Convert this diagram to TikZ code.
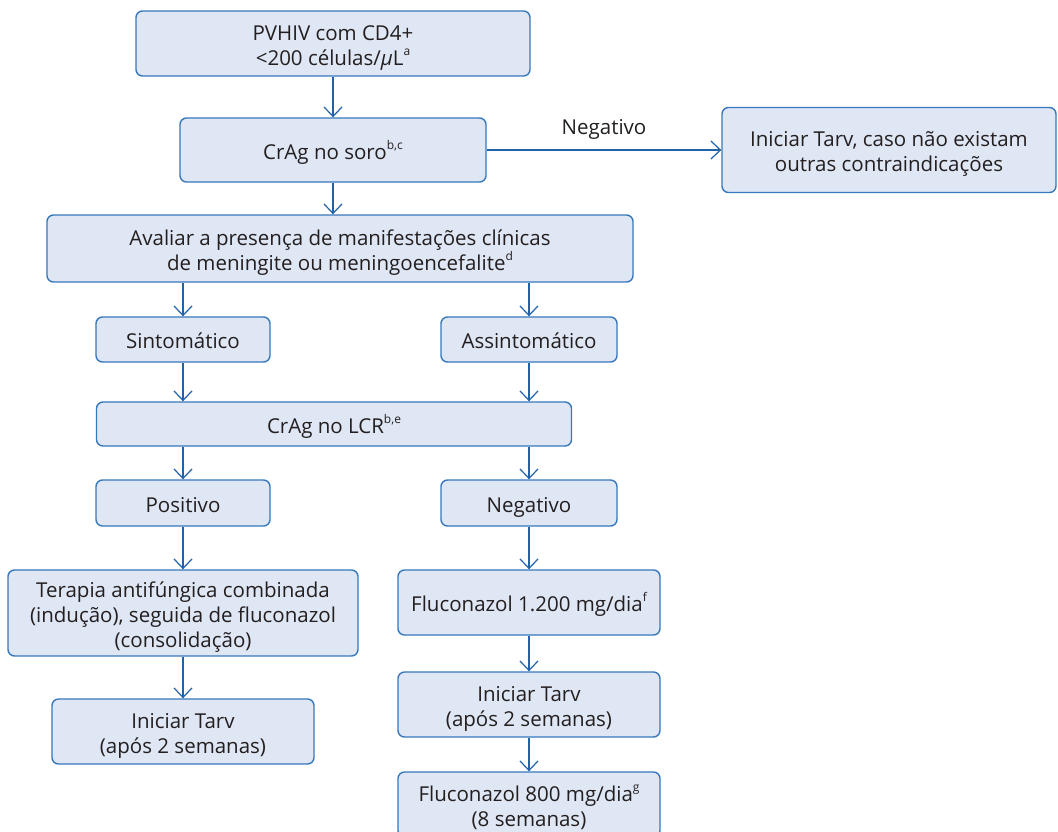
\documentclass[tikz,border=0pt]{standalone}
\usepackage{fontspec}
\setmainfont{Open Sans}
\usetikzlibrary{arrows.meta}
\definecolor{boxfill}{RGB}{223,230,244}
\definecolor{boxline}{RGB}{56,120,188}
\definecolor{arrowc}{RGB}{34,98,168}
\definecolor{txt}{RGB}{35,31,32}
\newcommand\sps[1]{\raisebox{0.47em}{\fontsize{12}{12}\selectfont #1}}
\newcommand\tps{\rule{0pt}{24pt}}
\newcommand\bts{\rule[-6pt]{0pt}{6pt}}
\begin{document}
\begin{tikzpicture}[x=1pt,y=-1pt,
  flowbox/.style={draw=boxline, line width=1.4pt, fill=boxfill, rounded corners=6.5pt,
    inner sep=0pt, align=center, text=txt, font=\fontsize{20.5}{25}\selectfont},
  flowarrow/.style={draw=arrowc, line width=1.2pt, -{Straight Barb[length=9.5pt,width=18pt,line width=1.2pt]}}]
\useasboundingbox (0,0) rectangle (1058,831);
\fill[white] (0,0) rectangle (1058,831);
\node[flowbox, minimum width=394pt, minimum height=65pt] (b1) at (333,43.5) {\tps PVHIV com CD4+\\{<}200 células/{\itshape μ}L\sps{a}\bts};
\node[flowbox, minimum width=306pt, minimum height=64pt] (b2) at (333,150) {\tps CrAg no soro\sps{b,c}\bts};
\node[flowbox, minimum width=334pt, minimum height=85pt] (r1) at (889,150) {\tps Iniciar Tarv, caso não existam\\outras contraindicações\bts};
\node[flowbox, minimum width=586pt, minimum height=67pt] (b3) at (340,248.5) {\tps Avaliar a presença de manifestações clínicas\\de meningite ou meningoencefalite\sps{d}\bts};
\node[flowbox, minimum width=174pt, minimum height=45pt] (sint) at (183,339.5) {\tps Sintomático\bts};
\node[flowbox, minimum width=176pt, minimum height=45pt] (assint) at (529,339.5) {\tps Assintomático\bts};
\node[flowbox, minimum width=475pt, minimum height=44pt] (lcr) at (334,424) {\tps CrAg no LCR\sps{b,e}\bts};
\node[flowbox, minimum width=174pt, minimum height=46pt] (pos) at (183,503) {\tps Positivo\bts};
\node[flowbox, minimum width=176pt, minimum height=46pt] (neg) at (529,503) {\tps Negativo\bts};
\node[flowbox, minimum width=350pt, minimum height=86pt] (ter) at (183,613) {\tps Terapia antifúngica combinada\\(indução), seguida de fluconazol\\(consolidação)\bts};
\node[flowbox, minimum width=262pt, minimum height=65pt] (f1) at (529,602.5) {\tps Fluconazol 1.200 mg/dia\sps{f}\bts};
\node[flowbox, minimum width=262pt, minimum height=65pt] (tl) at (183,731.5) {\tps Iniciar Tarv\\(após 2 semanas)\bts};
\node[flowbox, minimum width=262pt, minimum height=65pt] (tr) at (529,704.5) {\tps Iniciar Tarv\\(após 2 semanas)\bts};
\node[flowbox, minimum width=262pt, minimum height=65pt] (f2) at (529,804.5) {\tps Fluconazol 800 mg/dia\sps{g}\\(8 semanas)\bts};
\draw[flowarrow] (b1.south) -- (b2.north);
\draw[flowarrow] (b2.east) -- node[above=7pt, text=txt, font=\fontsize{20.5}{22}\selectfont] (lneg) {Negativo} (r1.west);
\draw[flowarrow] (b2.south) -- (b2.south |- b3.north);
\draw[flowarrow] (sint.north |- b3.south) -- (sint.north);
\draw[flowarrow] (assint.north |- b3.south) -- (assint.north);
\draw[flowarrow] (sint.south) -- (sint.south |- lcr.north);
\draw[flowarrow] (assint.south) -- (assint.south |- lcr.north);
\draw[flowarrow] (pos.north |- lcr.south) -- (pos.north);
\draw[flowarrow] (neg.north |- lcr.south) -- (neg.north);
\draw[flowarrow] (pos.south) -- (ter.north);
\draw[flowarrow] (neg.south) -- (f1.north);
\draw[flowarrow] (ter.south) -- (tl.north);
\draw[flowarrow] (f1.south) -- (tr.north);
\draw[flowarrow] (tr.south) -- (f2.north);
\end{tikzpicture}
\end{document}
